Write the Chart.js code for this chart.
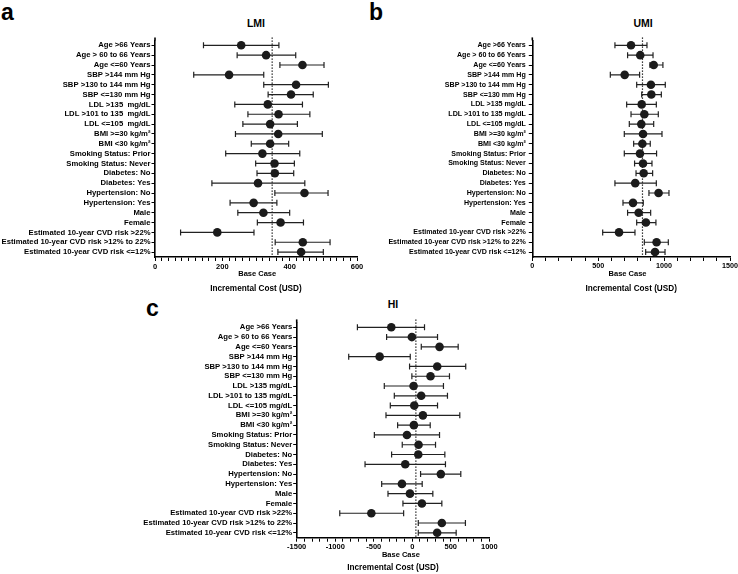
<!DOCTYPE html>
<html>
<head>
<meta charset="utf-8">
<script src="https://cdn.jsdelivr.net/npm/chart.js@4.4.0/dist/chart.umd.min.js"></script>
<style>
  html, body { margin: 0; padding: 0; background: #fff; overflow: hidden; }
  body { width: 738px; height: 574px; position: relative; font-family: "Liberation Sans", Arial, sans-serif; }
  .panel { position: absolute; }
  .letter { position: absolute; font-weight: bold; font-size: 23px; line-height: 23px; }
  .title { position: absolute; font-weight: bold; font-size: 10.5px; line-height: 12px; transform: translateX(-50%); white-space: nowrap; }
</style>
</head>
<body>
<div class="letter" style="left:1px;top:1px">a</div>
<div class="letter" style="left:369px;top:1px">b</div>
<div class="letter" style="left:146px;top:297px">c</div>
<div class="title" style="left:256px;top:17px">LMI</div>
<div class="title" style="left:643px;top:17px">UMI</div>
<div class="title" style="left:393px;top:298px">HI</div>

<div class="panel" style="left:0px;top:0px;width:370px;height:296px"><canvas id="chartA"></canvas></div>
<div class="panel" style="left:375px;top:0px;width:370px;height:296px"><canvas id="chartB"></canvas></div>
<div class="panel" style="left:120px;top:290px;width:385px;height:284px"><canvas id="chartC"></canvas></div>

<script>
// row labels, top to bottom
const categoriesLMI = [
  "Age >66 Years", "Age > 60 to 66 Years", "Age <=60 Years",
  "SBP >144 mm Hg", "SBP >130 to 144 mm Hg", "SBP <=130 mm Hg",
  "LDL >135  mg/dL", "LDL >101 to 135  mg/dL", "LDL <=105  mg/dL",
  "BMI >=30 kg/m\u00B2", "BMI <30 kg/m\u00B2",
  "Smoking Status: Prior", "Smoking Status: Never",
  "Diabetes: No", "Diabetes: Yes",
  "Hypertension: No", "Hypertension: Yes",
  "Male", "Female",
  "Estimated 10-year CVD risk >22%", "Estimated 10-year CVD risk >12% to 22%", "Estimated 10-year CVD risk <=12%"
];
const categories = [
  "Age >66 Years", "Age > 60 to 66 Years", "Age <=60 Years",
  "SBP >144 mm Hg", "SBP >130 to 144 mm Hg", "SBP <=130 mm Hg",
  "LDL >135 mg/dL", "LDL >101 to 135 mg/dL", "LDL <=105 mg/dL",
  "BMI >=30 kg/m\u00B2", "BMI <30 kg/m\u00B2",
  "Smoking Status: Prior", "Smoking Status: Never",
  "Diabetes: No", "Diabetes: Yes",
  "Hypertension: No", "Hypertension: Yes",
  "Male", "Female",
  "Estimated 10-year CVD risk >22%", "Estimated 10-year CVD risk >12% to 22%", "Estimated 10-year CVD risk <=12%"
];

// LMI
const lmiCost = [256, 330, 438, 220, 419, 404, 335, 367, 342, 366, 342, 319, 355, 356, 306, 444, 293, 322, 373, 185, 439, 434];
const lmiLow  = [144, 244, 371, 115, 323, 336, 237, 276, 261, 239, 286, 210, 299, 303, 169, 356, 223, 246, 304, 76, 357, 365];
const lmiHigh = [368, 418, 502, 323, 515, 470, 438, 460, 423, 497, 397, 430, 414, 412, 445, 514, 362, 400, 441, 294, 520, 500];
const lmiBase = 348;

// UMI
const umiCost = [749, 819, 921, 701, 900, 903, 830, 850, 827, 840, 835, 817, 840, 845, 781, 958, 764, 807, 862, 658, 943, 931];
const umiLow  = [627, 723, 893, 592, 792, 830, 716, 749, 736, 698, 769, 698, 776, 787, 627, 885, 688, 723, 792, 534, 850, 860];
const umiHigh = [870, 916, 991, 814, 1009, 979, 941, 956, 921, 984, 895, 943, 908, 913, 941, 1037, 842, 898, 938, 779, 1032, 1007];
const umiBase = 836;

// HI
const hiCost = [-272, -5, 354, -423, 324, 237, 17, 116, 26, 138, 21, -69, 82, 78, -91, 371, -134, -30, 125, -531, 384, 323];
const hiLow  = [-712, -333, 117, -825, -35, -5, -363, -233, -285, -341, -190, -492, -130, -268, -613, 108, -397, -315, -121, -941, 78, 78];
const hiHigh = [159, 328, 596, -26, 694, 483, 405, 457, 328, 617, 233, 354, 302, 423, 431, 630, 129, 267, 384, -112, 690, 570];
const hiBase = 47;

const FONT = '"Liberation Sans", Arial, sans-serif';

// dotted base-case line, "Base Case" label, little stub of the y axis above the plot
const baseLine = {
  id: 'baseLine',
  beforeDatasetsDraw(chart, args, opts) {
    const { ctx, chartArea, scales: { x } } = chart;
    const px = x.getPixelForValue(opts.value);
    ctx.save();
    ctx.strokeStyle = '#000';
    ctx.lineWidth = 1.2;
    ctx.setLineDash([1.4, 1.6]);
    ctx.beginPath();
    ctx.moveTo(px, chartArea.top - 3);
    ctx.lineTo(px, chartArea.bottom);
    ctx.stroke();
    ctx.setLineDash([]);
    ctx.lineWidth = 1.6;
    ctx.beginPath();
    ctx.moveTo(chartArea.left, chartArea.top - 3);
    ctx.lineTo(chartArea.left, chartArea.top);
    ctx.stroke();
    ctx.restore();
  },
  afterDraw(chart, args, opts) {
    const { ctx, chartArea, scales: { x } } = chart;
    const px = x.getPixelForValue(opts.value);
    ctx.save();
    ctx.fillStyle = '#000';
    ctx.font = 'bold 7.5px ' + FONT;
    ctx.textAlign = 'right';
    ctx.textBaseline = 'middle';
    ctx.fillText('Base Case', px + 4, chartArea.bottom + 17);
    ctx.restore();
  }
};

function whiskers(cats, low, high) {
  const pts = [];
  cats.forEach((c, i) => {
    pts.push({ x: low[i], y: c }, { x: high[i], y: c }, { x: null, y: null });
  });
  return pts;
}

function makeChart(id, cats, cost, low, high, base, ax, box) {
  return new Chart(document.getElementById(id), {
    type: 'scatter',
    data: {
      datasets: [
        {
          data: cats.map((c, i) => ({ x: cost[i], y: c })),
          pointRadius: 4.3,
          pointBackgroundColor: '#1b1b1b',
          pointBorderWidth: 0,
          showLine: false
        },
        {
          data: whiskers(cats, low, high),
          showLine: true,
          spanGaps: false,
          borderColor: '#222',
          borderWidth: 1.2,
          pointStyle: 'line',
          rotation: 90,
          pointRadius: 3,
          pointBorderColor: '#222',
          pointBorderWidth: 1.2
        }
      ]
    },
    options: {
      responsive: true,
      maintainAspectRatio: false,
      animation: false,
      events: [],
      layout: { padding: { left: 0, top: box.top, right: box.right, bottom: 0 } },
      plugins: {
        legend: { display: false },
        tooltip: { enabled: false },
        baseLine: { value: base }
      },
      scales: {
        x: {
          type: 'linear',
          min: ax.min,
          max: ax.max,
          ticks: {
            stepSize: ax.step,
            autoSkip: false,
            maxRotation: 0,
            color: '#000',
            padding: 1,
            font: { family: FONT, size: box.tickFont, weight: 'bold' },
            callback: v => (v % ax.major === 0 ? String(v) : '')
          },
          grid: { display: true, drawOnChartArea: false, drawTicks: true, tickLength: 4, color: '#000', lineWidth: 1 },
          border: { display: true, color: '#000', width: 1.6 },
          title: {
            display: true,
            text: 'Incremental Cost (USD)',
            color: '#000',
            font: { family: FONT, size: 8.2, weight: 'bold' },
            padding: { top: 0, bottom: box.titlePad }
          },
          afterFit: s => { s.height = box.xHeight; }
        },
        y: {
          type: 'category',
          labels: cats,
          offset: true,
          ticks: {
            autoSkip: false,
            color: '#000',
            padding: box.labelPad,
            font: { family: FONT, size: box.labelFont, weight: 'bold' }
          },
          grid: { display: true, drawOnChartArea: false, drawTicks: true, tickLength: 3.5, color: '#000', lineWidth: 1 },
          border: { display: true, color: '#000', width: 1.6 },
          afterFit: s => { s.width = box.yWidth; }
        }
      }
    },
    plugins: [baseLine]
  });
}

makeChart('chartA', categoriesLMI, lmiCost, lmiLow, lmiHigh, lmiBase,
  { min: 0, max: 600, step: 20, major: 200 },
  { top: 40.4, right: 13, yWidth: 155, xHeight: 39, titlePad: 2, labelFont: 7.7, labelPad: 1, tickFont: 7.5 });

makeChart('chartB', categories, umiCost, umiLow, umiHigh, umiBase,
  { min: 0, max: 1500, step: 100, major: 500 },
  { top: 40.4, right: 15, yWidth: 157.3, xHeight: 39, titlePad: 2, labelFont: 7.1, labelPad: 3, tickFont: 7.2 });

makeChart('chartC', categories, hiCost, hiLow, hiHigh, hiBase,
  { min: -1500, max: 1000, step: 100, major: 500 },
  { top: 32.4, right: 15.7, yWidth: 176.7, xHeight: 36.3, titlePad: 1.3, labelFont: 7.7, labelPad: 1, tickFont: 7.5 });
</script>
</body>
</html>
